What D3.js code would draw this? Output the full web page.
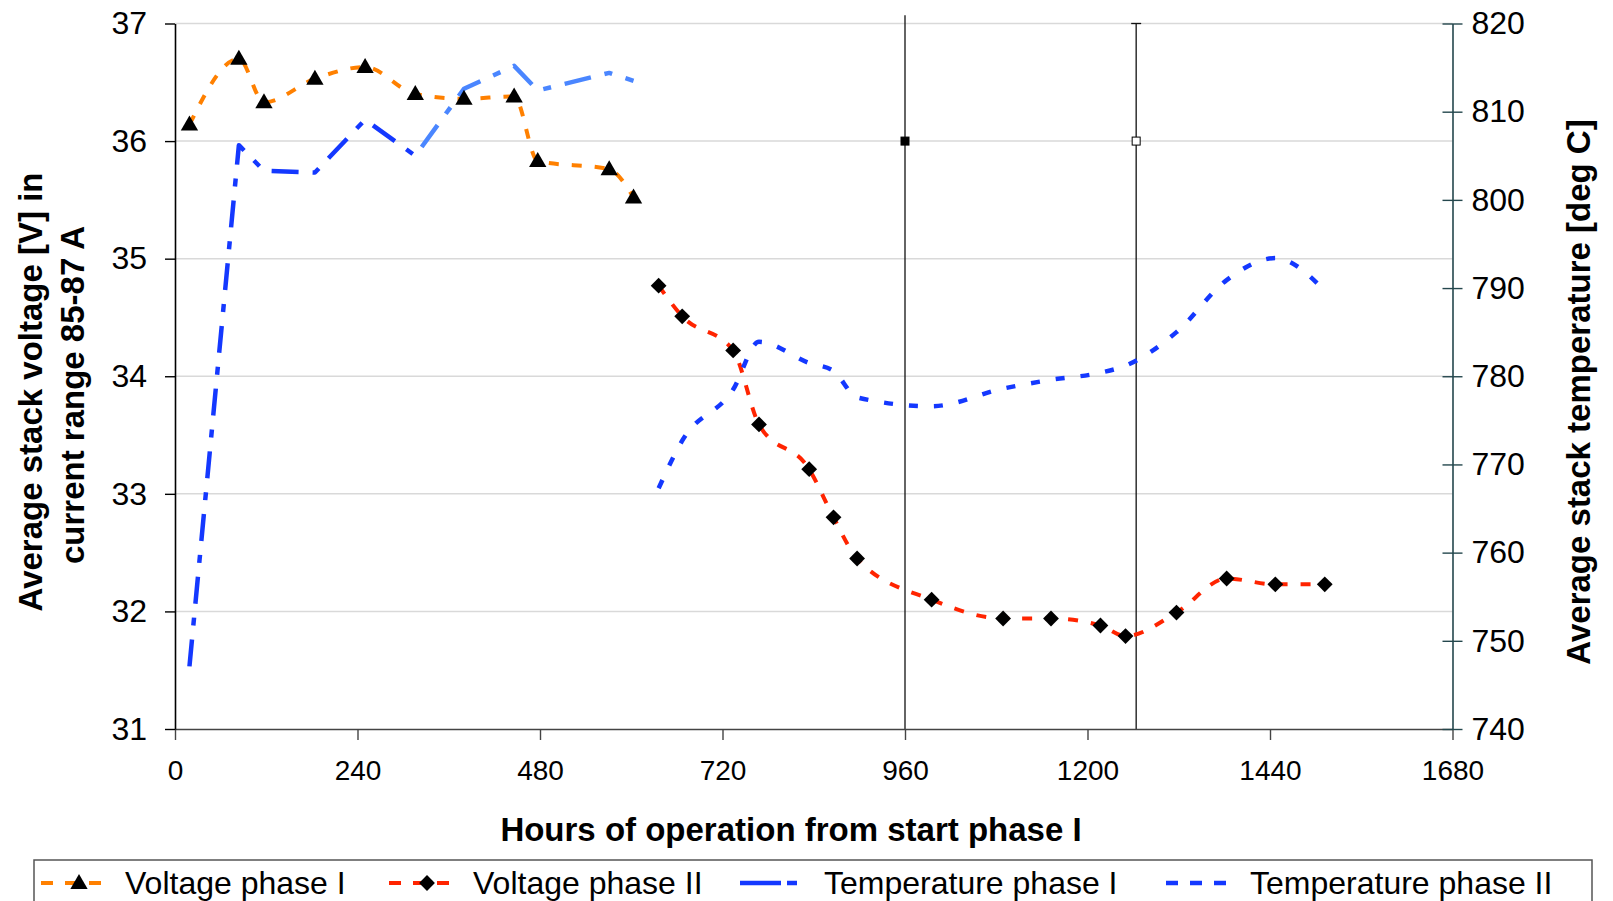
<!DOCTYPE html>
<html>
<head>
<meta charset="utf-8">
<script src="https://cdn.jsdelivr.net/npm/d3@7"></script>
<style>
  html, body { margin: 0; padding: 0; background: #fff; }
  svg { display: block; }
  text { font-family: "Liberation Sans", Arial, sans-serif; fill: #000; }
</style>
</head>
<body>
<svg id="chart" width="1613" height="901"></svg>
<script>
// phase I: hours, voltage, temperature
const hoursPhase1 = [19, 84, 117, 184, 250, 316, 380, 446, 477, 571, 603];
const voltPhase1 = [36.14, 36.70, 36.33, 36.53, 36.63, 36.40, 36.36, 36.38, 35.83, 35.76, 35.52];
const tempPhase1 = [747.1, 806.2, 803.3, 803.1, 809.1, 805.0, 812.6, 815.2, 812.4, 814.4, 813.5];

// phase II
const hoursPhase2 = [636, 667, 734, 768, 834, 866, 897, 995, 1089, 1152, 1217, 1250, 1317, 1383, 1447, 1512];
const voltPhase2 = [34.77, 34.51, 34.22, 33.59, 33.21, 32.80, 32.45, 32.10, 31.94, 31.94, 31.88, 31.79, 31.99, 32.28, 32.23, 32.23];
const tempPhase2 = [767.3, 772.7, 778.5, 783.9, 781.5, 780.6, 777.6, 776.6, 778.6, 779.6, 780.4, 781.2, 785.0, 790.9, 793.4, 789.7];

// the two vertical marker bars
const boundaryHours = [960, 1264];
const boundaryVolt = [36, 36];
const boundaryTop = [37.07, 37];

const hourTicks = [0, 240, 480, 720, 960, 1200, 1440, 1680];
const voltTicks = [31, 32, 33, 34, 35, 36, 37];
const tempTicks = [740, 750, 760, 770, 780, 790, 800, 810, 820];
const legendLabels = ["Voltage phase I", "Voltage phase II", "Temperature phase I", "Temperature phase II"];

const plot = { left: 175, right: 1452.5, top: 23.5, bottom: 729 };
const svg = d3.select("#chart");

const x = d3.scaleLinear().domain([0, 1680]).range([plot.left, plot.right]);
const yVolt = d3.scaleLinear().domain([31, 37]).range([plot.bottom, plot.top]);
const yTemp = d3.scaleLinear().domain([740, 820]).range([plot.bottom, plot.top]);

const darkBlue = "#1438ff";
const lightBlue = "#4a86ff";

// temperature phase I turns lighter after ~316 h
const defs = svg.append("defs");
const grad = defs.append("linearGradient")
  .attr("id", "temp1-grad")
  .attr("gradientUnits", "userSpaceOnUse")
  .attr("x1", x(0)).attr("x2", x(1680))
  .attr("y1", 0).attr("y2", 0);
const splitAt = 314 / 1680;
grad.append("stop").attr("offset", 0).attr("stop-color", darkBlue);
grad.append("stop").attr("offset", splitAt).attr("stop-color", darkBlue);
grad.append("stop").attr("offset", splitAt).attr("stop-color", lightBlue);
grad.append("stop").attr("offset", 1).attr("stop-color", lightBlue);

// gridlines
svg.append("g")
  .selectAll("line")
  .data(voltTicks.filter((v) => v > 31))
  .join("line")
  .attr("x1", plot.left)
  .attr("x2", plot.right)
  .attr("y1", (v) => yVolt(v))
  .attr("y2", (v) => yVolt(v))
  .attr("stroke", "#d9d9d9")
  .attr("stroke-width", 1.5);

// vertical bars at phase boundaries
const bars = svg.append("g");
boundaryHours.forEach((hour, i) => {
  const bx = x(hour);
  bars.append("line")
    .attr("x1", bx).attr("x2", bx)
    .attr("y1", yVolt(boundaryTop[i])).attr("y2", plot.bottom)
    .attr("stroke", "#111").attr("stroke-width", 1.3);
  if (i === 1) {
    bars.append("line")
      .attr("x1", bx - 5).attr("x2", bx + 5)
      .attr("y1", yVolt(boundaryTop[i])).attr("y2", yVolt(boundaryTop[i]))
      .attr("stroke", "#111").attr("stroke-width", 1.3);
  }
  bars.append("rect")
    .attr("x", bx - 4).attr("y", yVolt(boundaryVolt[i]) - 4)
    .attr("width", 8).attr("height", 8)
    .attr("fill", i === 0 ? "#000" : "#fff")
    .attr("stroke", "#000").attr("stroke-width", 1);
});

// axes
function styleAxis(g, color, fontSize) {
  g.attr("font-size", null).attr("font-family", null);
  g.select(".domain").attr("stroke", color).attr("stroke-width", 1.6);
  g.selectAll(".tick line").attr("stroke", color).attr("stroke-width", 1.4);
  g.selectAll(".tick text").attr("font-size", fontSize).attr("fill", "#000");
}

svg.append("g")
  .attr("transform", `translate(0,${plot.bottom})`)
  .call(d3.axisBottom(x).tickValues(hourTicks).tickSize(11).tickSizeOuter(0).tickPadding(20).tickFormat(d3.format("d")))
  .call((g) => styleAxis(g, "#444", 28));

svg.append("g")
  .attr("transform", `translate(${plot.left},0)`)
  .call(d3.axisLeft(yVolt).tickValues(voltTicks).tickSize(10).tickSizeOuter(0).tickPadding(18).tickFormat(d3.format("d")))
  .call((g) => styleAxis(g, "#000", 32));

svg.append("g")
  .attr("transform", `translate(${plot.right},0)`)
  .call(d3.axisRight(yTemp).tickValues(tempTicks).tickSize(10).tickSizeOuter(0).tickPadding(9))
  .call((g) => styleAxis(g, "#24474d", 32))
  .call((g) => g.selectAll(".tick line").attr("x1", -10));

// series
const series = [
  { hours: hoursPhase1, values: voltPhase1, y: yVolt, curve: d3.curveMonotoneX, color: "#ff8000", width: 4, dash: "10,13", legendDash: "12,12", marker: "triangle" },
  { hours: hoursPhase2, values: voltPhase2, y: yVolt, curve: d3.curveMonotoneX, color: "#ff2400", width: 4, dash: "10,13", legendDash: "12,12", marker: "diamond" },
  { hours: hoursPhase1, values: tempPhase1, y: yTemp, curve: d3.curveLinear, color: "url(#temp1-grad)", legendColor: darkBlue, width: 4.5, dash: "27,14,8,14", legendDash: "41,6,10,20" },
  { hours: hoursPhase2, values: tempPhase2, y: yTemp, curve: d3.curveMonotoneX, color: darkBlue, width: 4.5, dash: "9,16", legendDash: "12,12" }
];

const lines = svg.append("g").attr("fill", "none");
series.forEach((s) => {
  const points = d3.zip(s.hours, s.values);
  lines.append("path")
    .datum(points)
    .attr("d", d3.line().x((d) => x(d[0])).y((d) => s.y(d[1])).curve(s.curve))
    .attr("stroke", s.color)
    .attr("stroke-width", s.width)
    .attr("stroke-linejoin", "round")
    .attr("stroke-dasharray", s.dash);
});

const triangle = d3.symbol().type(d3.symbolTriangle).size(130);
const diamond = d3.symbol().type(d3.symbolSquare).size(125);

function drawMarker(g, kind, cx, cy) {
  if (kind === "triangle") {
    g.append("path").attr("d", triangle()).attr("transform", `translate(${cx},${cy + 1})`).attr("fill", "#000");
  } else if (kind === "diamond") {
    g.append("path").attr("d", diamond()).attr("transform", `translate(${cx},${cy}) rotate(45)`).attr("fill", "#000");
  }
}

const markers = svg.append("g");
series.filter((s) => s.marker).forEach((s) => {
  s.hours.forEach((hour, i) => drawMarker(markers, s.marker, x(hour), s.y(s.values[i])));
});

// axis titles
svg.append("text")
  .attr("x", 791).attr("y", 841)
  .attr("text-anchor", "middle")
  .attr("font-size", 33).attr("font-weight", "bold")
  .text("Hours of operation from start phase I");

svg.append("text")
  .attr("transform", "translate(42,392) rotate(-90)")
  .attr("text-anchor", "middle")
  .attr("font-size", 33).attr("font-weight", "bold")
  .text("Average stack voltage [V] in");

svg.append("text")
  .attr("transform", "translate(84,395) rotate(-90)")
  .attr("text-anchor", "middle")
  .attr("font-size", 33).attr("font-weight", "bold")
  .text("current range 85-87 A");

svg.append("text")
  .attr("transform", "translate(1590,392) rotate(-90)")
  .attr("text-anchor", "middle")
  .attr("font-size", 33).attr("font-weight", "bold")
  .text("Average stack temperature [deg C]");

// legend
const legend = svg.append("g");
legend.append("rect")
  .attr("x", 34).attr("y", 860)
  .attr("width", 1558).attr("height", 70)
  .attr("fill", "#fff").attr("stroke", "#555").attr("stroke-width", 1.5);

const legendX = [41, 389, 740, 1166];
const legendY = 883;
series.forEach((s, i) => {
  const lx = legendX[i];
  legend.append("line")
    .attr("x1", lx).attr("x2", lx + 60)
    .attr("y1", legendY).attr("y2", legendY)
    .attr("stroke", s.legendColor || s.color)
    .attr("stroke-width", s.width)
    .attr("stroke-dasharray", s.legendDash);
  if (s.marker) {
    drawMarker(legend, s.marker, lx + 38, legendY);
  }
  legend.append("text")
    .attr("x", lx + 84).attr("y", legendY)
    .attr("dy", "0.35em")
    .attr("font-size", 32)
    .text(legendLabels[i]);
});
</script>
</body>
</html>
